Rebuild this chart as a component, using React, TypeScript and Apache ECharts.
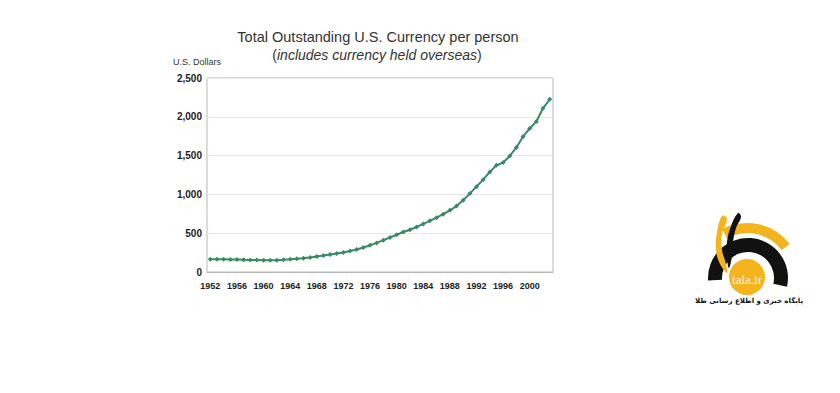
import React, { useEffect, useRef } from "react";
import * as echarts from "echarts";

const years: string[] = [];
for (let y = 1952; y <= 2003; y++) years.push(String(y));

const perPerson = [
  165, 165, 163, 161, 160, 158, 156, 155, 153, 152,
  153, 157, 163, 170, 178, 187, 200, 212, 225, 238,
  252, 270, 290, 315, 345, 375, 410, 445, 480, 515,
  545, 580, 620, 660, 700, 745, 795, 850, 925, 1010,
  1100, 1190, 1290, 1375, 1410, 1495, 1605, 1745, 1850, 1940,
  2110, 2225,
];

const titleText = "Total Outstanding U.S. Currency per person";
const subtitleText = "includes currency held overseas";
const yAxisName = "U.S. Dollars";
const logoText = "tala.ir";
const logoCaption = "پایگاه خبری و اطلاع رسانی طلا";

const FONT = "'Liberation Sans', Arial, sans-serif";
const YELLOW = "#f4b41e";
const BLACK = "#111111";

export default function App() {
  const ref = useRef<HTMLDivElement>(null);

  useEffect(() => {
    document.body.style.margin = "0";
    if (!ref.current) return;
    const chart = echarts.init(ref.current, null, { renderer: "svg" });
    chart.setOption({
      animation: false,
      backgroundColor: "#ffffff",
      title: [
        {
          text: titleText,
          left: 378,
          top: 29,
          textAlign: "center",
          padding: 0,
          textStyle: { fontFamily: FONT, fontSize: 14.5, fontWeight: "normal", color: "#333333" },
        },
        {
          text: "{p|(}{i|" + subtitleText + "}{p|)}",
          left: 377,
          top: 48,
          textAlign: "center",
          padding: 0,
          textStyle: {
            fontFamily: FONT,
            fontSize: 14,
            fontWeight: "normal",
            color: "#333333",
            rich: {
              p: { fontFamily: FONT, fontSize: 14, fontWeight: "normal", color: "#333333" },
              i: { fontFamily: FONT, fontSize: 14, fontWeight: "normal", fontStyle: "italic", color: "#333333" },
            },
          },
        },
        {
          text: yAxisName,
          left: 173,
          top: 57,
          padding: 0,
          textStyle: { fontFamily: FONT, fontSize: 9, fontWeight: "normal", color: "#333333" },
        },
      ],
      grid: {
        left: 207,
        right: 287,
        top: 78,
        bottom: 121,
        show: true,
        borderColor: "#b8b8b8",
        borderWidth: 1,
        backgroundColor: "transparent",
      },
      xAxis: {
        type: "category",
        data: years,
        boundaryGap: true,
        axisLine: { show: true, lineStyle: { color: "#b8b8b8" } },
        axisTick: { show: false },
        axisLabel: {
          interval: 3,
          margin: 9,
          fontFamily: FONT,
          fontSize: 9,
          fontWeight: "bold",
          color: "#222222",
        },
        splitLine: { show: false },
      },
      yAxis: {
        type: "value",
        min: 0,
        max: 2500,
        interval: 500,
        axisLine: { show: false },
        axisTick: { show: false },
        axisLabel: {
          margin: 5,
          fontFamily: FONT,
          fontSize: 10,
          fontWeight: "bold",
          color: "#222222",
          formatter: (v: number) => v.toLocaleString("en-US"),
        },
        splitLine: { show: true, lineStyle: { color: "#e6e6e6", width: 1 } },
      },
      series: [
        {
          type: "line",
          data: perPerson,
          symbol: "diamond",
          symbolSize: 5,
          showSymbol: true,
          showAllSymbol: true,
          lineStyle: { color: "#3a8a68", width: 2 },
          itemStyle: { color: "#3a8a68" },
        },
      ],
      graphic: [
        {
          type: "group",
          silent: true,
          children: [
            {
              type: "sector",
              shape: { cx: 747, cy: 277, r0: 44, r: 54, startAngle: -2.05, endAngle: -0.66, clockwise: true },
              style: { fill: YELLOW },
            },
            {
              type: "sector",
              shape: { cx: 748, cy: 278, r0: 26, r: 40, startAngle: Math.PI * 0.98, endAngle: Math.PI * 2 + 0.22, clockwise: true },
              style: { fill: BLACK },
            },
            {
              type: "polygon",
              shape: {
                points: [
                  [722, 216], [717, 232], [716, 250], [720, 264], [727, 273],
                  [726, 264], [722, 250], [722, 234], [727, 219],
                ],
                smooth: 0.4,
              },
              style: { fill: YELLOW },
            },
            {
              type: "polygon",
              shape: {
                points: [
                  [738, 213], [731, 226], [727, 242], [727, 258], [729, 268],
                  [732, 256], [733, 242], [736, 228], [741, 217],
                ],
                smooth: 0.4,
              },
              style: { fill: BLACK },
            },
            {
              type: "circle",
              shape: { cx: 747, cy: 277, r: 18 },
              style: { fill: YELLOW },
            },
            {
              type: "text",
              x: 747,
              y: 279,
              style: {
                text: logoText,
                fill: "#fff8e6",
                font: "13px 'Liberation Serif', 'DejaVu Serif', serif",
                align: "center",
                verticalAlign: "middle",
              },
            },
            {
              type: "text",
              x: 749,
              y: 301,
              style: {
                text: logoCaption,
                fill: "#111111",
                font: "bold 7px 'DejaVu Sans', sans-serif",
                align: "center",
                verticalAlign: "middle",
              },
            },
          ],
        },
      ],
    });
    return () => chart.dispose();
  }, []);

  return <div ref={ref} style={{ width: 840, height: 393 }} />;
}
